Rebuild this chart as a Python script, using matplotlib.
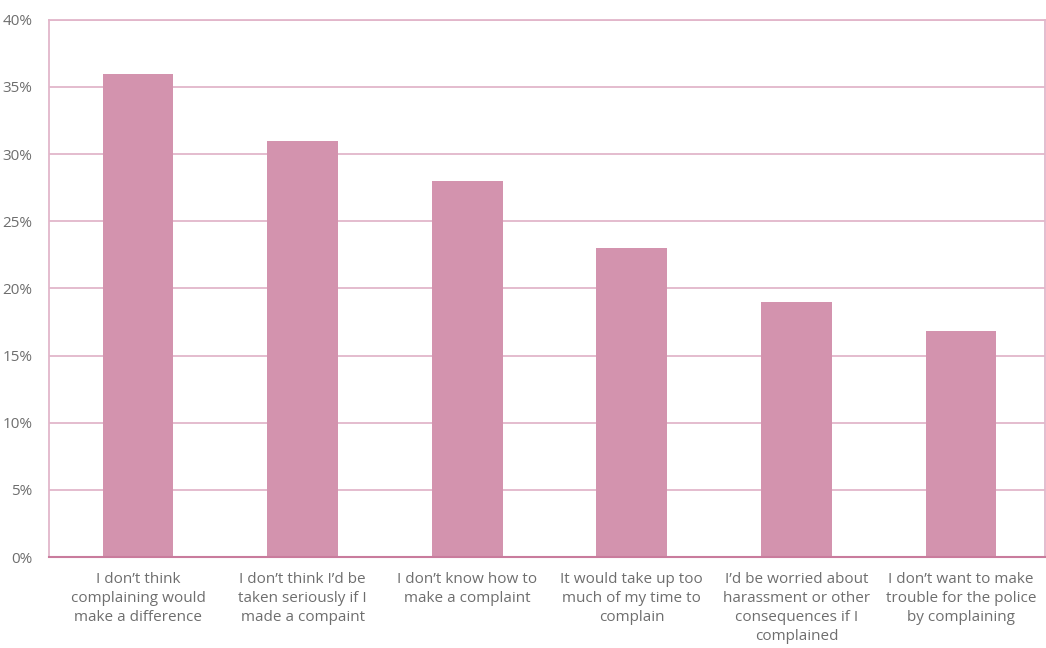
import numpy as np
import matplotlib
matplotlib.use("Agg")
from matplotlib import pyplot as plt
from matplotlib.ticker import FuncFormatter

categories = [
    "I don\u2019t think\ncomplaining would\nmake a difference",
    "I don\u2019t think I\u2019d be\ntaken seriously if I\nmade a compaint",
    "I don\u2019t know how to\nmake a complaint",
    "It would take up too\nmuch of my time to\ncomplain",
    "I\u2019d be worried about\nharassment or other\nconsequences if I\ncomplained",
    "I don\u2019t want to make\ntrouble for the police\nby complaining",
]
values = [36, 31, 28, 23, 19, 16.8]
yticks = [0, 5, 10, 15, 20, 25, 30, 35, 40]

bar_color = "#D393AE"
grid_color = "#E2B6CA"
base_color = "#C97C9D"
text_color = "#6E6E6E"

plt.rcParams['font.family'] = ['Open Sans', 'DejaVu Sans']

fig = plt.figure(figsize=(10.46, 6.48), dpi=100)
ax = fig.add_axes([0.047, 0.1404, 0.952, 0.829])

x = np.arange(len(categories))
ax.bar(x, values, width=0.43, color=bar_color, zorder=3)

ax.set_xlim(-0.54, len(categories) - 0.49)
ax.set_ylim(0, 40)
ax.set_yticks(yticks)
ax.yaxis.set_major_formatter(FuncFormatter(lambda v, p: f"{int(v)}%"))
ax.set_xticks(x)
ax.set_xticklabels(categories, linespacing=1.35)

ax.grid(axis='y', color=grid_color, linewidth=1.3, zorder=0)
for s in ['left', 'top', 'right']:
    ax.spines[s].set_color(grid_color)
    ax.spines[s].set_linewidth(1.3)
ax.spines['bottom'].set_color(base_color)
ax.spines['bottom'].set_linewidth(1.5)
ax.spines['bottom'].set_zorder(4)

ax.tick_params(axis='both', length=0, colors=text_color, labelsize=11)
ax.tick_params(axis='y', pad=12)
ax.tick_params(axis='x', pad=11)

fig.savefig("out.png", dpi=100)
